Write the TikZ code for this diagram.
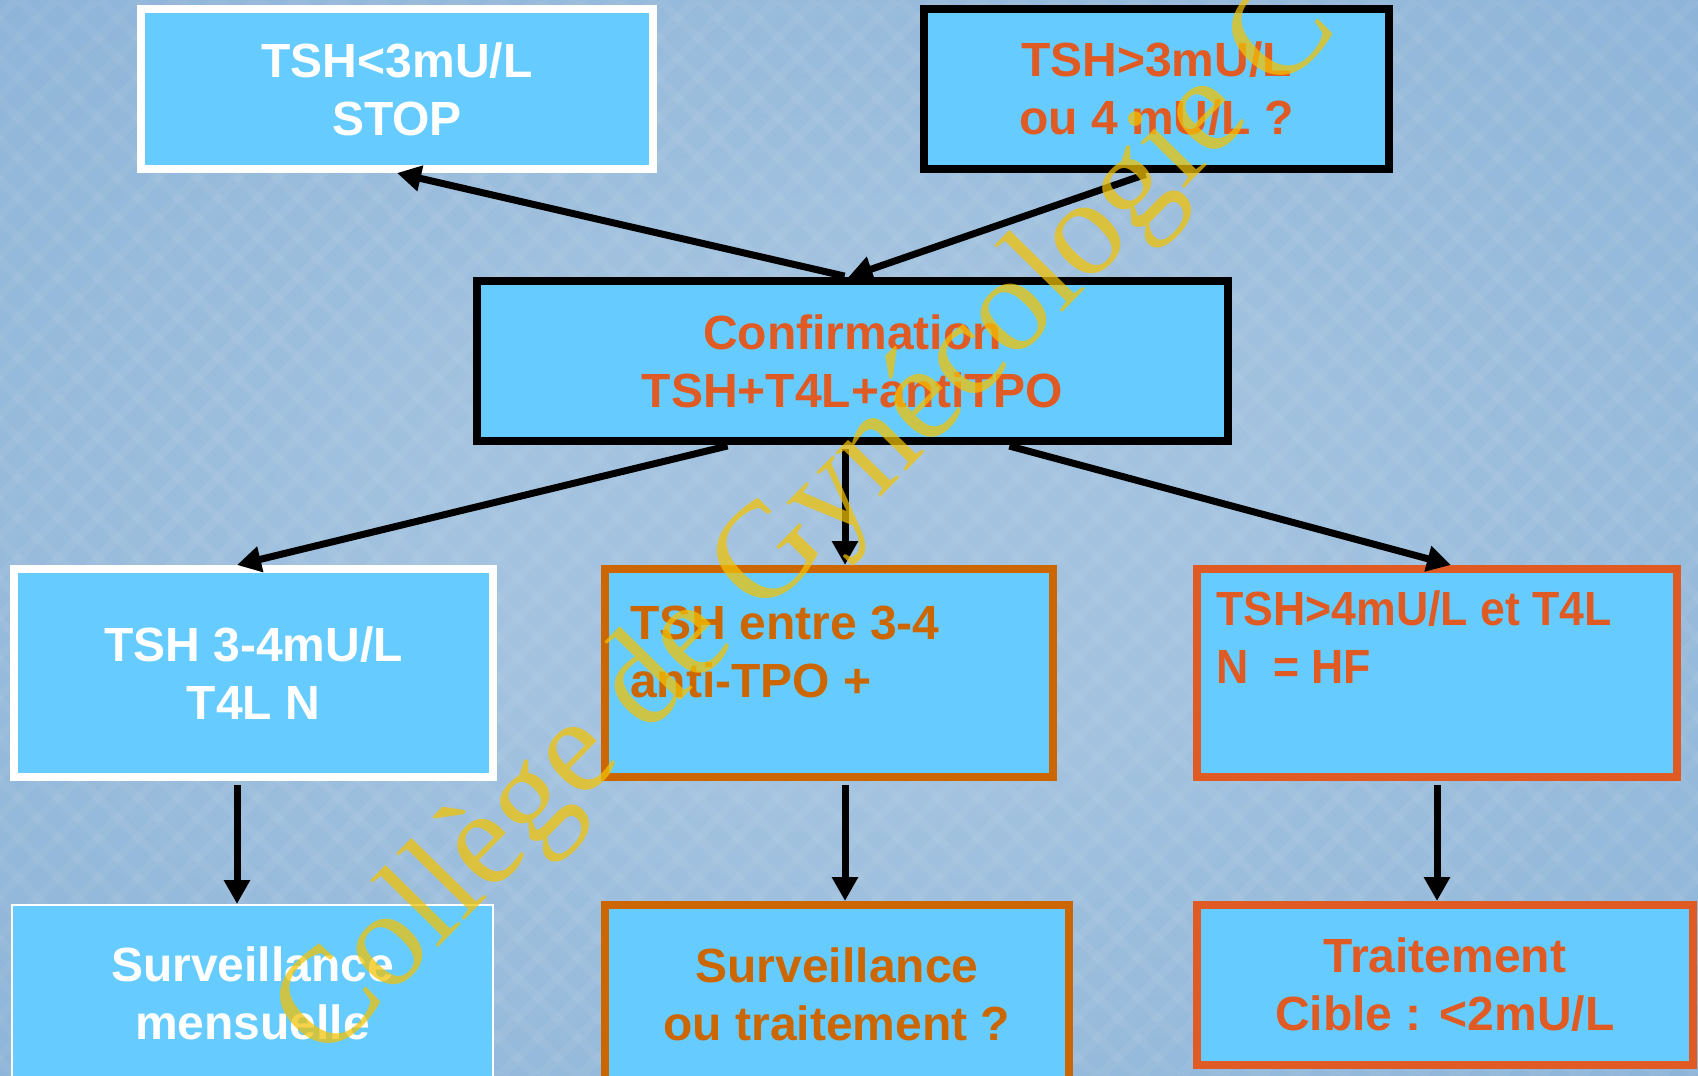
\documentclass[tikz,border=0pt]{standalone}
\usepackage{fontspec}
\setmainfont{Liberation Sans}
\newfontfamily\wmfont{Liberation Serif}
\newfontfamily\narfont[FakeStretch=0.93]{Liberation Sans}
\usetikzlibrary{arrows.meta,calc}
\definecolor{boxfill}{HTML}{66CCFF}
\definecolor{orred}{HTML}{E05A24}
\definecolor{dkor}{HTML}{CC6600}
\definecolor{bgin}{HTML}{A2C2DF}
\definecolor{bgout}{HTML}{6E9FCD}
\definecolor{wmyel}{HTML}{F2C200}
\pgfdeclareradialshading{bgshade}{\pgfpoint{0bp}{0bp}}{color(0bp)=(bgin); color(12bp)=(bgin); color(72bp)=(bgout)}
\begin{document}
\begin{tikzpicture}[x=1pt,y=-1pt,
  box/.style={rectangle, fill=boxfill, line width=8pt, inner sep=0pt, align=center,
    font=\fontsize{48}{58}\selectfont\bfseries},
  boxtext/.style={inner sep=0pt, align=left, anchor=north west,
    font=\fontsize{48}{58}\selectfont\bfseries},
  conn/.style={line width=7pt, -{Triangle[width=25pt,length=24pt]}, shorten <=4pt},
  wm/.style={text=wmyel, text opacity=0.72, inner sep=0pt,
    font=\wmfont\fontsize{137}{137}\selectfont}]
\useasboundingbox (0,0) rectangle (1698,1076);
% background
\begin{scope}
  \clip (0,0) rectangle (1698,1076);
  \shade[shading=bgshade] (0,0) rectangle (1698,1076);
  \foreach \i in {-1100,-1060,...,1700} {
    \draw[white, opacity=0.05, line width=9pt] (\i,0) -- ++(1076,1076);
    \draw[white, opacity=0.05, line width=9pt] (\i,1076) -- ++(1076,-1076);
  }
\end{scope}
% boxes
\node[box, draw=white, text=white, minimum width=512pt, minimum height=160pt] (A) at (397,89) {TSH<3mU/L\\STOP};
\node[box, draw=black, text=orred, minimum width=465pt, minimum height=160pt] (B) at (1156.5,89) {TSH>3mU/L\\ou 4 mU/L ?};
\node[box, draw=black, text=orred, minimum width=751pt, minimum height=160pt] (C) at (852.5,361) {Confirmation\\TSH+T4L+antiTPO};
\node[box, draw=white, text=white, minimum width=479pt, minimum height=208pt] (D) at (253.5,673) {TSH 3-4mU/L\\T4L N};
\node[box, draw=dkor, minimum width=448pt, minimum height=208pt] (E) at (829,673) {};
\node[box, draw=orred, minimum width=480pt, minimum height=208pt] (F) at (1437,673) {};
\node[boxtext, text=dkor] (Et) at (630,606) {TSH entre 3-4\\anti-TPO +};
\node[boxtext, text=orred, font=\narfont\fontsize{48}{58}\selectfont\bfseries] (Ft) at (1216,591) {TSH>4mU/L et T4L\\N\ \ = HF};
\node[box, draw=white, line width=2pt, text=white, minimum width=481pt, minimum height=176pt] (G) at (252.5,993) {Surveillance\\mensuelle};
\node[box, draw=dkor, text=dkor, minimum width=464pt, minimum height=179pt] (H) at (837,994.5) {Surveillance\\ou traitement ?};
\node[box, draw=orred, text=orred, minimum width=495.5pt, minimum height=160pt] (I) at (1444.75,985) {Traitement\\Cible : <2mU/L};
% connectors
\coordinate (xd) at (237,0);
\coordinate (xe) at (845,0);
\coordinate (xf) at (1437,0);
\draw[conn] ($(C.north)+(-4,0)$) -- (A.south);
\draw[conn] ($(B.south)+(-7,0)$) -- ($(C.north)+(-4,0)$);
\draw[conn] ($(C.south)+(-121,0)$) -- (D.north -| xd);
\draw[conn] (C.south -| xe) -- (E.north -| xe);
\draw[conn] ($(C.south)+(153,0)$) -- ($(F.north)+(14,0)$);
\draw[conn] (D.south -| xd) -- (G.north -| xd);
\draw[conn] (E.south -| xe) -- (H.north -| xe);
\draw[conn] (F.south -| xf) -- (I.north -| xf);
% watermark
\node[wm, anchor=base west, rotate=45.5] (wmk) at (324,1064) {Collège de Gynécologie C};
\end{tikzpicture}
\end{document}
